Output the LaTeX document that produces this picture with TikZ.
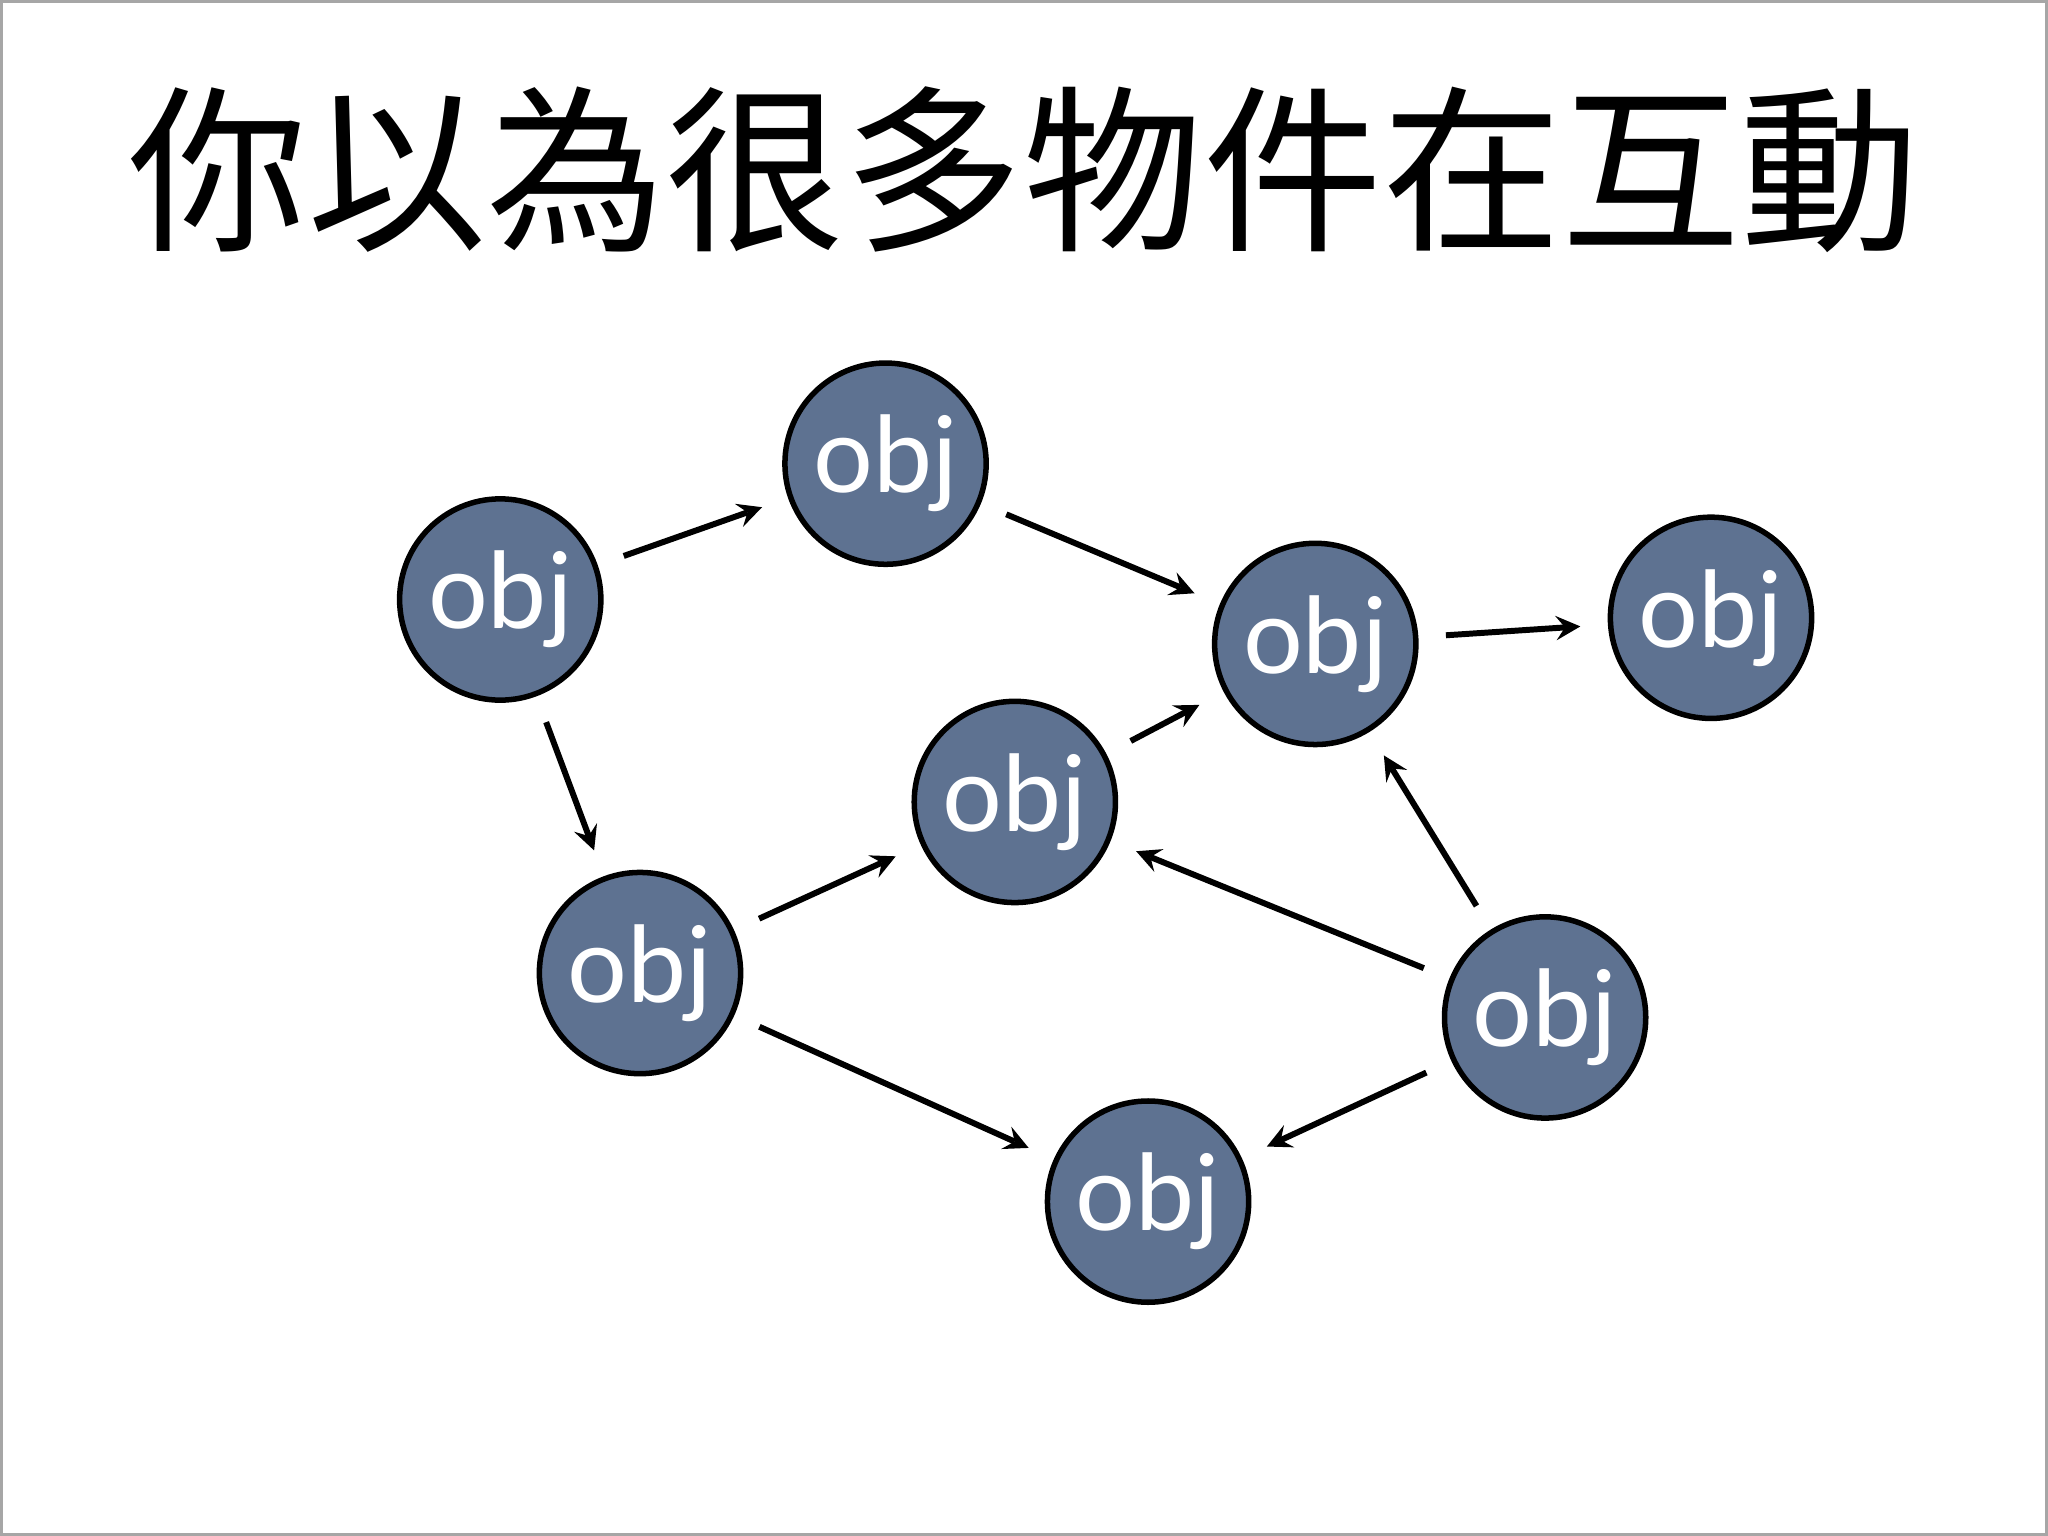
\documentclass[tikz,border=0pt]{standalone}
\usepackage{fontspec}
\newfontfamily\cjk{Noto Sans CJK TC}
\newfontfamily\objfont{Lato}
\definecolor{objfill}{HTML}{5E7291}
\begin{document}
\begin{tikzpicture}[x=0.01cm,y=-0.01cm,
  objnode/.style={circle,draw=black,line width=1.2pt,fill=objfill,minimum size=1.54cm,inner sep=0pt,
    font=\objfont\fontsize{23}{25}\selectfont,text=white},
  arr/.style={-stealth,line width=1.3pt,shorten <=6pt,shorten >=6pt}]
\useasboundingbox (0,0) rectangle (1568,1176);
\draw[gray!70,line width=0.8pt] (1,1) rectangle (1567,1175);
\node[font=\cjk\fontsize{39}{42}\selectfont] (title) at (784,130) {你以為很多物件在互動};
\foreach \n/\x/\y in {A/383/459,B/678/355,C/1007/493,D/1310/473,E/777/614,F/490/745,G/1183/779,H/879/920}{
  \node[objnode] (\n) at (\x,\y) {obj};
}
\draw[arr] (A) -- (B);
\draw[arr] (B) -- (C);
\draw[arr] (C) -- (D);
\draw[arr] (A) -- (F);
\draw[arr] (F) -- (E);
\draw[arr] (E) -- (C);
\draw[arr] (F) -- (H);
\draw[arr] (G) -- (E);
\draw[arr] (G) -- (C);
\draw[arr] (G) -- (H);
\end{tikzpicture}
\end{document}
